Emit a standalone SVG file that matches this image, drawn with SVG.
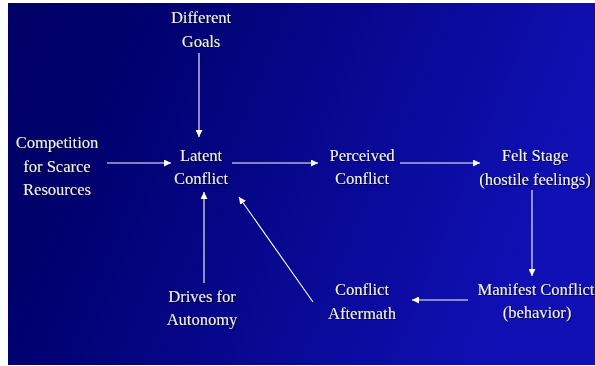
<svg xmlns="http://www.w3.org/2000/svg" width="595" height="366" viewBox="0 0 595 366">
<defs>
<linearGradient id="bg" x1="0" y1="0" x2="1" y2="0.25">
<stop offset="0" stop-color="#000066"/>
<stop offset="0.2" stop-color="#00006c"/>
<stop offset="1" stop-color="#1010b4"/>
</linearGradient>
<filter id="sh" x="-10%" y="-30%" width="120%" height="160%">
<feDropShadow dx="1" dy="1" stdDeviation="0.4" flood-color="#000022" flood-opacity="0.9"/>
</filter>
<marker id="ah" viewBox="0 0 10 10" refX="10" refY="5" markerWidth="7" markerHeight="7" markerUnits="userSpaceOnUse" orient="auto">
<path d="M0,0 L10,5 L0,10 z" fill="#ffffff"/>
</marker>
<style>
text{font-family:"Liberation Serif","DejaVu Serif",serif;font-size:16.5px;fill:#f0f0f0;text-anchor:middle;filter:url(#sh)}
.c line{stroke:#ffffff;stroke-width:1.1;marker-end:url(#ah)}
</style>
</defs>
<rect x="0" y="0" width="595" height="366" fill="#ffffff"/>
<rect x="8" y="3" width="587" height="362" fill="url(#bg)"/>
<g class="c" id="connectors">
<line x1="199" y1="53" x2="199" y2="137"/>
<line x1="107" y1="163" x2="171" y2="163"/>
<line x1="232" y1="163" x2="318" y2="163"/>
<line x1="400" y1="163" x2="480" y2="163"/>
<line x1="532" y1="190" x2="532" y2="276"/>
<line x1="468" y1="300" x2="412" y2="300"/>
<line x1="313" y1="302" x2="239" y2="197"/>
<line x1="204" y1="283" x2="204" y2="192"/>
</g>
<g id="goals"><text x="201" y="23">Different</text><text x="201" y="47">Goals</text></g>
<g id="competition"><text x="57" y="148">Competition</text><text x="57" y="172">for Scarce</text><text x="57" y="195">Resources</text></g>
<g id="latent"><text x="201" y="161">Latent</text><text x="201" y="184">Conflict</text></g>
<g id="perceived"><text x="362" y="161">Perceived</text><text x="362" y="184">Conflict</text></g>
<g id="felt"><text x="535" y="161">Felt Stage</text><text x="535" y="185">(hostile feelings)</text></g>
<g id="manifest"><text x="536" y="295">Manifest Conflict</text><text x="537" y="318">(behavior)</text></g>
<g id="aftermath"><text x="362" y="295">Conflict</text><text x="362" y="319">Aftermath</text></g>
<g id="drives"><text x="202" y="302">Drives for</text><text x="202" y="325">Autonomy</text></g>
</svg>
